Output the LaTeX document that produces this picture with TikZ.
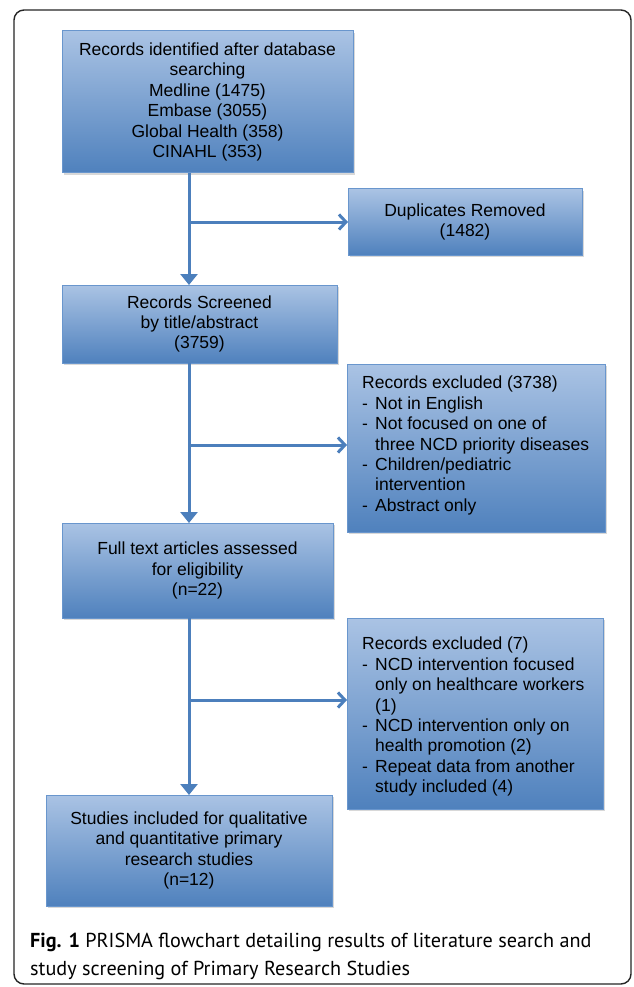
\documentclass[tikz,border=0pt]{standalone}
\usepackage{fontspec}
\setmainfont{Liberation Sans}
\newfontfamily\capfont{PT Sans}
\usetikzlibrary{arrows.meta,shadows,calc}
\definecolor{boxtop}{RGB}{170,195,228}
\definecolor{boxbot}{RGB}{79,129,189}
\definecolor{boxedge}{RGB}{105,150,205}
\definecolor{arrowc}{RGB}{76,127,188}
\tikzset{
  flowbox/.style={draw=boxedge, line width=1pt, top color=boxtop, bottom color=boxbot,
    anchor=north west, inner sep=0pt, outer sep=0pt,
    font=\fontsize{17.5}{20.4}\selectfont,
    drop shadow={shadow xshift=2pt, shadow yshift=-2pt, opacity=0.25, fill=black!60}},
  ctext/.style={align=center},
  ltext/.style={align=left, anchor=north west, inner sep=0pt, font=\fontsize{17.5}{20.4}\selectfont},
  spine/.style={draw=arrowc, line width=3pt},
  downarrow/.style={spine, -{Triangle[width=17pt,length=11pt]}},
  rightarrow/.style={spine, -{Straight Barb[width=15pt,length=7pt,line width=3pt]}}
}
\newcommand{\dashitem}{\makebox[13pt][l]{-}}
\newcommand{\contitem}{\hspace*{13pt}}
\begin{document}
\begin{tikzpicture}[x=1pt,y=-1pt]
\useasboundingbox (0,0) rectangle (633,987);
\fill[white] (0,0) rectangle (633,987);
% frame
\draw[line width=1.4pt, black!85, rounded corners=10pt] (14,10) rectangle (631,984);

% boxes
\node[flowbox, minimum width=291pt, minimum height=142pt, ctext] (b1) at (62,31)
  {Records identified after database\\searching\\Medline (1475)\\Embase (3055)\\Global Health (358)\\CINAHL (353)};
\node[flowbox, minimum width=234pt, minimum height=66pt, ctext] (dup) at (348,189)
  {Duplicates Removed\\(1482)};
\node[flowbox, minimum width=275pt, minimum height=78pt, ctext] (scr) at (62,285)
  {Records Screened\\by title/abstract\\(3759)};
\node[flowbox, minimum width=258pt, minimum height=168pt] (ex1) at (347,364) {};
\node[ltext] (ex1t) at (362,376)
  {Records excluded (3738)\\
   \dashitem Not in English\\
   \dashitem Not focused on one of\\
   \contitem three NCD priority diseases\\
   \dashitem Children/pediatric\\
   \contitem intervention\\
   \dashitem Abstract only};
\node[flowbox, minimum width=271pt, minimum height=95pt, ctext] (full) at (62,523)
  {Full text articles assessed\\for eligibility\\(n=22)};
\node[flowbox, minimum width=256pt, minimum height=191pt] (ex2) at (347,618) {};
\node[ltext] (ex2t) at (362,637)
  {Records excluded (7)\\
   \dashitem NCD intervention focused\\
   \contitem only on healthcare workers\\
   \contitem (1)\\
   \dashitem NCD intervention only on\\
   \contitem health promotion (2)\\
   \dashitem Repeat data from another\\
   \contitem study included (4)};
\node[flowbox, minimum width=286pt, minimum height=111pt, ctext] (inc) at (46,795)
  {Studies included for qualitative\\and quantitative primary\\research studies\\(n=12)};

% connectors
\coordinate (sp) at (189,0);
\coordinate (j1) at (189,222);
\coordinate (j2) at (189,445);
\coordinate (j3) at (189,700);
\draw[downarrow] (b1.south -| sp) -- (scr.north -| sp);
\draw[rightarrow] (j1) -- (j1 -| dup.west);
\draw[downarrow] (scr.south -| sp) -- (full.north -| sp);
\draw[rightarrow] (j2) -- (j2 -| ex1.west);
\draw[downarrow] (full.south -| sp) -- (inc.north -| sp);
\draw[rightarrow] (j3) -- (j3 -| ex2.west);

% caption
\node[anchor=north west, inner sep=0pt, align=left, font=\capfont\fontsize{20.2}{28}\selectfont] (cap) at (30,933)
  {\textbf{Fig. 1} PRISMA flowchart detailing results of literature search and\\study screening of Primary Research Studies};
\end{tikzpicture}
\end{document}
